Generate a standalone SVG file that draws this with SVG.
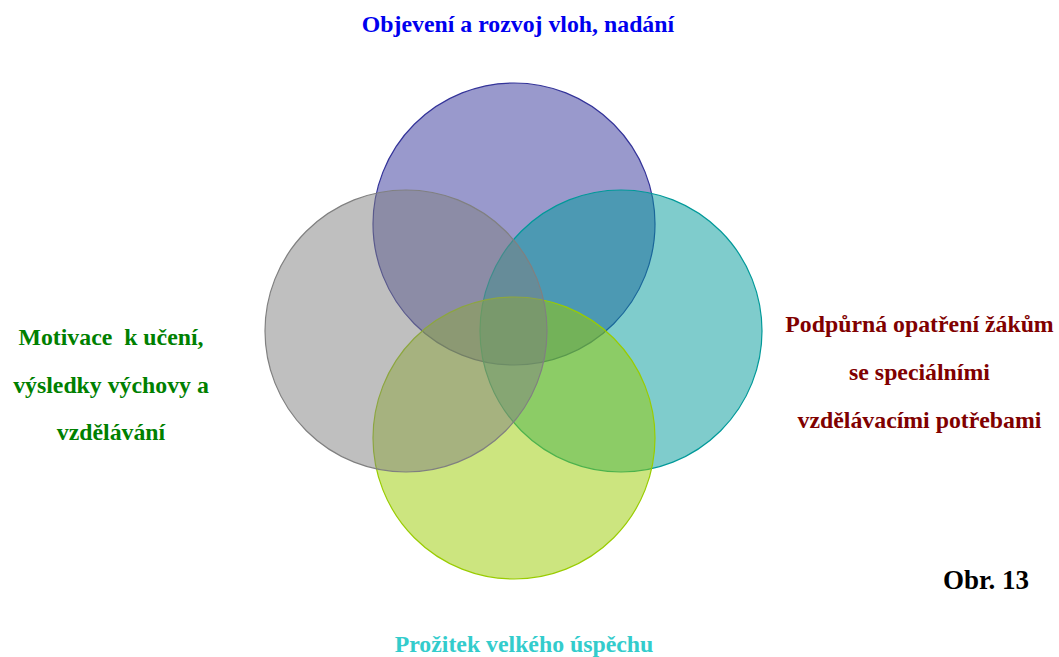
<svg xmlns="http://www.w3.org/2000/svg" width="1059" height="657" viewBox="0 0 1059 657">
<style>
text{font-family:"Liberation Serif","Times New Roman",serif;font-weight:bold;font-size:23.8px;text-anchor:middle}
.c{stroke-width:1.2}
</style>
<rect width="1059" height="657" fill="#ffffff"/>
<g id="circles">
<g id="top"><circle class="c" cx="514" cy="224" r="141" fill="#333399" fill-opacity="0.5" stroke="#333399"/></g>
<g id="right"><circle class="c" cx="621" cy="331" r="141" fill="#009999" fill-opacity="0.5" stroke="#009999"/></g>
<g id="bottom"><circle class="c" cx="514" cy="438" r="141" fill="#99cc00" fill-opacity="0.5" stroke="#99cc00"/></g>
<g id="left"><circle class="c" cx="406" cy="331" r="141" fill="#808080" fill-opacity="0.5" stroke="#808080"/></g>
</g>
<g id="labels">
<g id="label-top"><text x="518" y="32" fill="#0000ee">Objevení a rozvoj vloh, nadání</text></g>
<g id="label-left">
<text x="111" y="345" fill="#008000">Motivace&#160; k učení,</text>
<text x="111" y="393" fill="#008000">výsledky výchovy a</text>
<text x="111" y="440" fill="#008000">vzdělávání</text>
</g>
<g id="label-right">
<text x="919.5" y="332" fill="#800000">Podpůrná opatření žákům</text>
<text x="919.5" y="380" fill="#800000">se speciálními</text>
<text x="919.5" y="428" fill="#800000">vzdělávacími potřebami</text>
</g>
<g id="label-bottom"><text x="524" y="652" fill="#33cccc">Prožitek velkého úspěchu</text></g>
<g id="caption"><text x="986" y="589" fill="#000000" style="font-size:27px">Obr. 13</text></g>
</g>
</svg>
